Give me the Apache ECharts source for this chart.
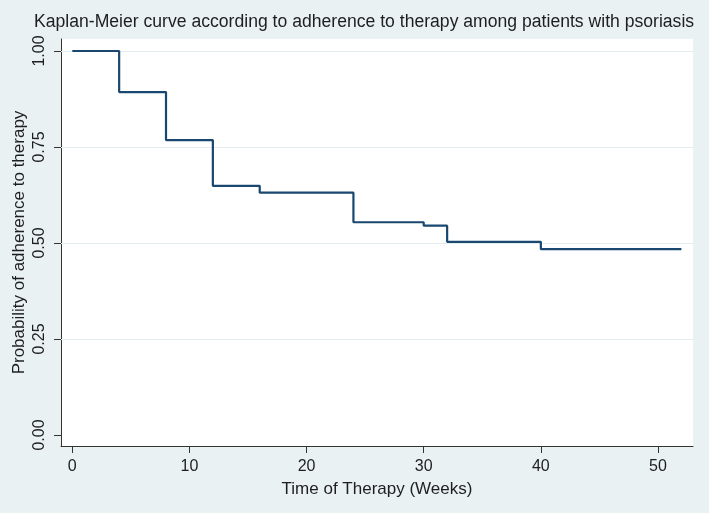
<!DOCTYPE html>
<html>
<head>
<meta charset="utf-8">
<script src="https://cdn.jsdelivr.net/npm/echarts@6/dist/echarts.min.js"></script>
<style>
html,body{margin:0;padding:0;background:#e9f1f3;}
#chart{width:709px;height:513px;}
</style>
</head>
<body>
<div id="chart"></div>
<script>
// Data
const times = [0, 4, 8, 12, 16, 24, 30, 32, 40, 52];
const survival = [1.0, 0.893, 0.768, 0.649, 0.631, 0.554, 0.545, 0.503, 0.484, 0.484];
const yTicks = [0, 0.25, 0.5, 0.75, 1.0];
const yGrid = [0.25, 0.5, 0.75, 1.0];
const xTicks = [0, 10, 20, 30, 40, 50];

const FONT = '"Liberation Sans", Arial, sans-serif';
const TXT = '#1e1e1e';

const chart = echarts.init(document.getElementById('chart'), null, {renderer: 'canvas'});
chart.setOption({
  backgroundColor: '#e9f1f3',
  animation: false,
  title: {
    text: 'Kaplan-Meier curve according to adherence to therapy among patients with psoriasis',
    left: 29,
    top: 8,
    textStyle: {fontFamily: FONT, fontSize: 17.6, fontWeight: 'normal', color: TXT}
  },
  grid: {
    left: 61, right: 16, top: 39, bottom: 67,
    show: true, backgroundColor: '#ffffff', borderWidth: 0
  },
  xAxis: {
    type: 'value',
    min: -0.965, max: 52.99,
    name: 'Time of Therapy (Weeks)',
    nameLocation: 'middle',
    nameGap: 35,
    nameTextStyle: {fontFamily: FONT, fontSize: 17, color: TXT},
    axisLine: {show: true, onZero: false, lineStyle: {color: '#333', width: 1}},
    axisTick: {show: true, customValues: xTicks, length: 7, lineStyle: {color: '#333'}},
    axisLabel: {customValues: xTicks, margin: 13, fontFamily: FONT, fontSize: 16, color: TXT},
    splitLine: {show: false}
  },
  yAxis: {
    type: 'value',
    min: -0.02865, max: 1.03125,
    name: 'Probability of adherence to therapy',
    nameLocation: 'middle',
    nameGap: 33,
    nameMoveOverlap: false,
    nameRotate: 90,
    nameTextStyle: {fontFamily: FONT, fontSize: 17, color: TXT},
    axisLine: {show: true, onZero: false, lineStyle: {color: '#333', width: 1}},
    axisTick: {show: true, customValues: yTicks, length: 7, lineStyle: {color: '#333'}},
    axisLabel: {
      customValues: yTicks, rotate: 90, margin: 13,
      fontFamily: FONT, fontSize: 16, color: TXT,
      formatter: v => v.toFixed(2)
    },
    splitLine: {show: false}
  },
  series: [{
    type: 'line',
    data: [],
    silent: true,
    z: 1,
    markLine: {
      silent: true,
      symbol: 'none',
      label: {show: false},
      lineStyle: {color: '#e4ecef', width: 1, type: 'solid'},
      data: yGrid.map(v => ({yAxis: v}))
    }
  }, {
    type: 'line',
    step: 'end',
    data: times.map((t, i) => [t, survival[i]]),
    symbol: 'none',
    lineStyle: {color: '#1a476f', width: 2.2},
    z: 5
  }]
});
</script>
</body>
</html>
